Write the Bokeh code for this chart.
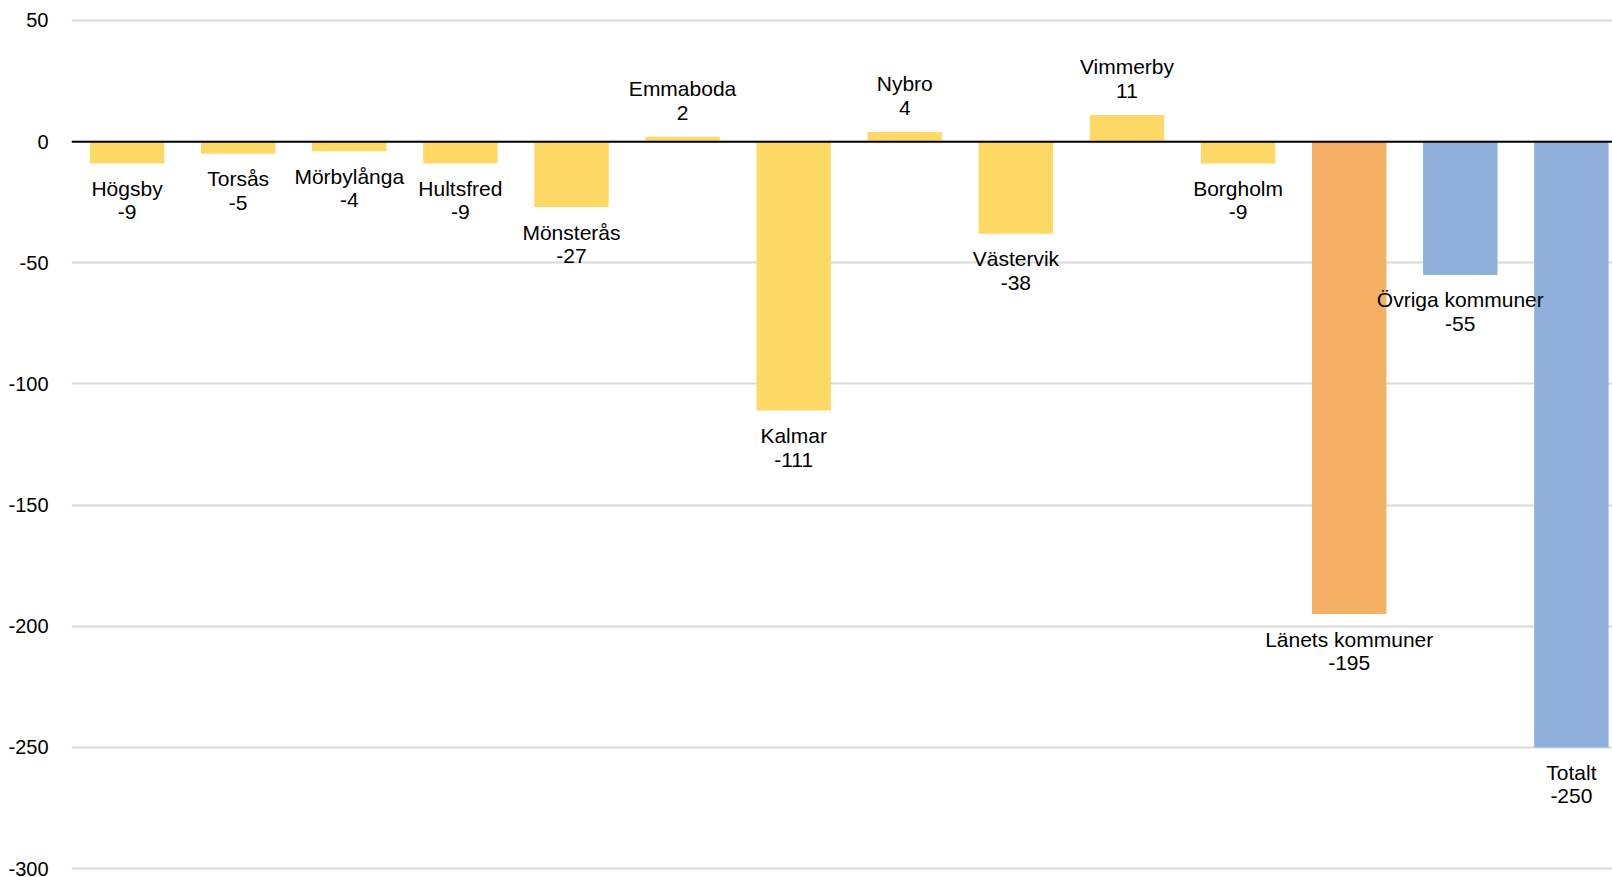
from bokeh.plotting import figure
from bokeh.models import (ColumnDataSource, Span, Range1d, SingleIntervalTicker,
                          CustomJSTickFormatter)
from bokeh.core.properties import value
from bokeh.embed import file_html
from bokeh.resources import INLINE

names = ["Högsby", "Torsås", "Mörbylånga", "Hultsfred", "Mönsterås", "Emmaboda",
         "Kalmar", "Nybro", "Västervik", "Vimmerby", "Borgholm",
         "Länets kommuner", "Övriga kommuner", "Totalt"]
values = [-9, -5, -4, -9, -27, 2, -111, 4, -38, 11, -9, -195, -55, -250]
groups = ["kommun"] * 11 + ["lan", "ovriga", "totalt"]
group_colors = {"kommun": "#FFD966", "lan": "#F4B163", "ovriga": "#8FB0DB", "totalt": "#8FB0DB"}

colors = [group_colors[g] for g in groups]
labels_val = [str(v) for v in values]
xpos = [i + 0.5 for i in range(len(names))]

neg = [i for i, v in enumerate(values) if v < 0]
pos = [i for i, v in enumerate(values) if v >= 0]

src = ColumnDataSource(dict(x=xpos, top=values, color=colors, val=labels_val))
src_neg = ColumnDataSource(dict(x=[xpos[i] for i in neg], y=[values[i] for i in neg],
                                name=[names[i] for i in neg],
                                val=[labels_val[i] for i in neg]))
src_pos = ColumnDataSource(dict(x=[xpos[i] for i in pos], y=[values[i] for i in pos],
                                name=[names[i] for i in pos],
                                val=[labels_val[i] for i in pos]))

# the category slots run slightly past the right edge of the window
p = figure(x_range=Range1d(0, len(names) - 0.13), y_range=Range1d(-303.7, 58.25),
           width=1612, height=877, output_backend="svg", toolbar_location=None,
           min_border_left=71, min_border_right=0, min_border_top=0, min_border_bottom=0)
p.outline_line_color = None
p.xaxis.visible = False
p.xgrid.grid_line_color = None
p.ygrid.grid_line_color = "#D9D9D9"
p.ygrid.grid_line_width = 2
p.yaxis.ticker = SingleIntervalTicker(interval=50)
p.yaxis.formatter = CustomJSTickFormatter(code="return tick.toFixed(0);")
p.yaxis.axis_line_color = None
p.yaxis.major_tick_line_color = None
p.yaxis.minor_tick_line_color = None
p.yaxis.major_tick_out = 0
p.yaxis.major_tick_in = 0
p.yaxis.major_label_standoff = 19
p.yaxis.major_label_text_font = "Liberation Sans"
p.yaxis.major_label_text_font_size = "20px"
p.yaxis.major_label_text_color = "#000000"

p.vbar(x="x", top="top", bottom=0, width=0.67, color="color", line_color=None, source=src)
p.add_layout(Span(location=0, dimension="width", line_color="#000000", line_width=2))

font = value("Liberation Sans")
common = dict(text_font=font, text_font_size="21px", text_color="#000000",
              text_align="center", text_baseline="middle")
p.text(x="x", y="y", text="name", y_offset=25, source=src_neg, **common)
p.text(x="x", y="y", text="val", y_offset=49, source=src_neg, **common)
p.text(x="x", y="y", text="val", y_offset=-24, source=src_pos, **common)
p.text(x="x", y="y", text="name", y_offset=-48, source=src_pos, **common)

open("out.html", "w").write(file_html(p, INLINE))
